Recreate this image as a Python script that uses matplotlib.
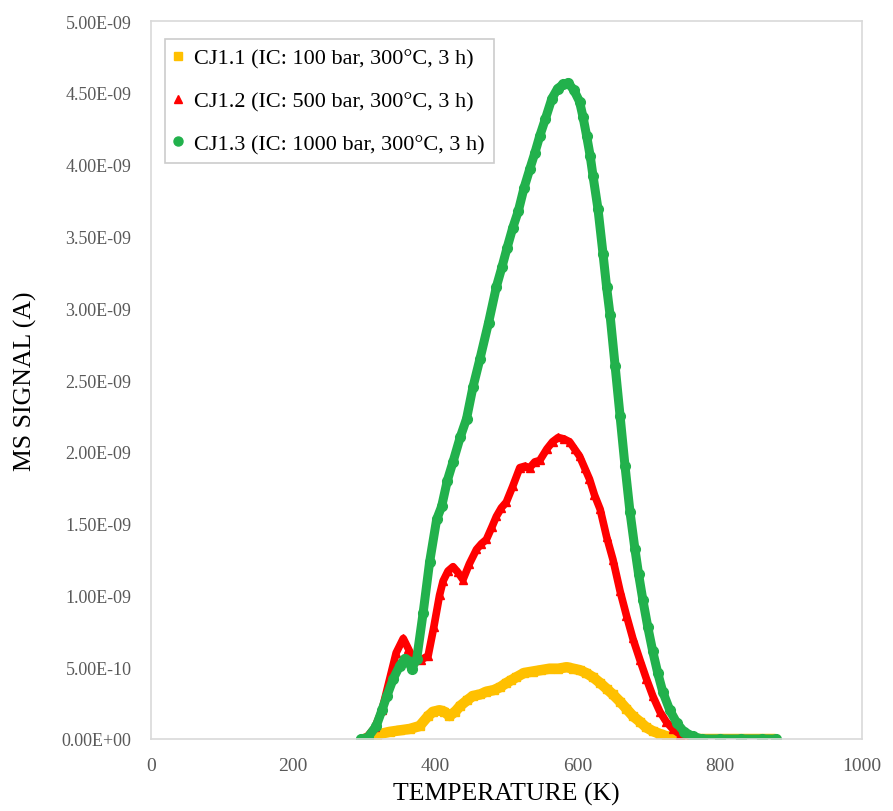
import matplotlib
matplotlib.use('Agg')
import matplotlib.pyplot as plt
from matplotlib.lines import Line2D
from matplotlib.ticker import FuncFormatter, MultipleLocator

plt.rcParams['font.family'] = ['Liberation Serif', 'DejaVu Serif']

# temperature (K) and MS signal (units of 1e-9 A) for each sample
t_cj11 = [300, 318, 336, 350, 364, 378, 390, 397, 406, 413, 420, 428, 435, 445, 453, 463,
          472, 482, 491, 500, 507, 514, 525, 537, 549, 561, 573, 585, 594, 603, 612, 622,
          632, 641, 650, 660, 669, 678, 688, 697, 706, 716, 725, 734, 750, 770, 800, 830,
          860, 878]
s_cj11 = [0.0, 0.03, 0.05, 0.06, 0.07, 0.09, 0.16, 0.19, 0.20, 0.19, 0.16, 0.19, 0.23, 0.27,
          0.30, 0.31, 0.33, 0.34, 0.36, 0.39, 0.41, 0.43, 0.46, 0.47, 0.48, 0.49, 0.49, 0.50,
          0.49, 0.48, 0.46, 0.43, 0.39, 0.35, 0.31, 0.26, 0.21, 0.16, 0.12, 0.08, 0.055, 0.035,
          0.02, 0.01, 0.0, 0.0, 0.0, 0.0, 0.0, 0.0]

t_cj12 = [298, 305, 315, 325, 336, 345, 355, 362, 370, 380, 390, 398, 406, 411, 418, 425,
          432, 439, 448, 458, 465, 472, 480, 486, 493, 500, 509, 519, 526, 533, 540, 547,
          557, 565, 573, 581, 589, 596, 603, 610, 617, 624, 632, 641, 650, 660, 669, 678,
          688, 697, 706, 716, 725, 734, 745, 758, 770, 800, 830, 860, 878]
s_cj12 = [0.0, 0.02, 0.08, 0.20, 0.42, 0.60, 0.70, 0.63, 0.55, 0.55, 0.58, 0.78, 1.00, 1.10,
          1.17, 1.20, 1.16, 1.11, 1.22, 1.32, 1.36, 1.39, 1.48, 1.55, 1.61, 1.65, 1.76, 1.89,
          1.90, 1.89, 1.93, 1.94, 2.02, 2.07, 2.10, 2.09, 2.07, 2.02, 1.97, 1.89, 1.81, 1.70,
          1.60, 1.41, 1.25, 1.03, 0.86, 0.70, 0.55, 0.42, 0.30, 0.19, 0.12, 0.07, 0.03, 0.01,
          0.0, 0.0, 0.0, 0.0, 0.0]

t_cj13 = [295, 305, 317, 325, 332, 341, 350, 357, 362, 367, 374, 383, 392, 402, 409, 417,
          425, 435, 444, 453, 463, 475, 486, 494, 501, 509, 517, 525, 533, 540, 547, 555,
          564, 572, 580, 587, 595, 603, 608, 613, 618, 622, 629, 636, 641, 646, 653, 660,
          667, 674, 681, 686, 692, 699, 706, 713, 720, 730, 740, 750, 762, 775, 800, 830,
          860, 880]
s_cj13 = [0.0, 0.01, 0.09, 0.20, 0.30, 0.42, 0.51, 0.56, 0.54, 0.49, 0.56, 0.88, 1.23, 1.53,
          1.62, 1.80, 1.93, 2.10, 2.23, 2.45, 2.65, 2.90, 3.15, 3.29, 3.42, 3.56, 3.68, 3.84,
          3.97, 4.08, 4.20, 4.32, 4.46, 4.53, 4.56, 4.57, 4.52, 4.44, 4.33, 4.20, 4.06, 3.92,
          3.69, 3.38, 3.15, 2.95, 2.60, 2.25, 1.90, 1.58, 1.32, 1.15, 0.97, 0.78, 0.61, 0.46,
          0.33, 0.20, 0.11, 0.05, 0.02, 0.0, 0.0, 0.0, 0.0, 0.0]

labels = ['CJ1.1 (IC: 100 bar, 300°C, 3 h)',
          'CJ1.2 (IC: 500 bar, 300°C, 3 h)',
          'CJ1.3 (IC: 1000 bar, 300°C, 3 h)']
colors = ['#FFC000', '#FF0000', '#22B14C']

fig = plt.figure(figsize=(8.93, 8.12), dpi=100)
ax = fig.add_axes([0.169, 0.0887, 0.796, 0.884])

ax.plot(t_cj11, [v * 1e-9 for v in s_cj11], color=colors[0], lw=7.5,
        marker='s', ms=6, solid_capstyle='round', solid_joinstyle='round')
ax.plot(t_cj12, [v * 1e-9 for v in s_cj12], color=colors[1], lw=5.5,
        marker='^', ms=6, solid_capstyle='round', solid_joinstyle='round')
ax.plot(t_cj13, [v * 1e-9 for v in s_cj13], color=colors[2], lw=6.5,
        marker='o', ms=7, solid_capstyle='round', solid_joinstyle='round')

ax.set_xlim(0, 1000)
ax.set_ylim(0, 5e-9)
ax.xaxis.set_major_locator(MultipleLocator(200))
ax.yaxis.set_major_locator(MultipleLocator(0.5e-9))
ax.yaxis.set_major_formatter(FuncFormatter(lambda v, p: f'{v:.2E}'))
ax.tick_params(length=0, labelcolor='#595959')
ax.tick_params(axis='x', labelsize=14, pad=13)
ax.tick_params(axis='y', labelsize=13, pad=14)
for sp in ax.spines.values():
    sp.set_color('#D9D9D9')
    sp.set_linewidth(1.2)

ax.set_xlabel('TEMPERATURE (K)', fontsize=18.5, labelpad=6)
ax.set_ylabel('MS SIGNAL (A)', fontsize=18.5, labelpad=18)

handles = [Line2D([], [], ls='none', marker=m, color=c, ms=ms)
           for m, c, ms in zip(['s', '^', 'o'], colors, [5.5, 5.5, 6.5])]
leg = ax.legend(handles, labels, loc='upper left', bbox_to_anchor=(0.02, 0.975),
                borderaxespad=0, fontsize=16, frameon=True, fancybox=False,
                handlelength=0.4, handletextpad=0.5, labelspacing=1.0,
                borderpad=0.4)
leg.get_frame().set_edgecolor('#BFBFBF')
leg.get_frame().set_linewidth(1.2)

fig.savefig('out.png', dpi=100)
